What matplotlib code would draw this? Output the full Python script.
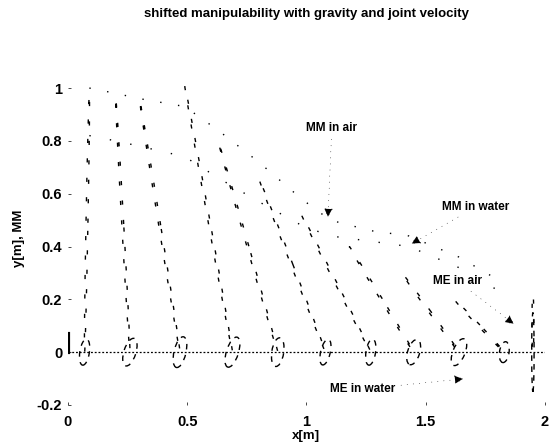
import numpy as np
import matplotlib
matplotlib.use("Agg")
import matplotlib.pyplot as plt
from matplotlib.patches import Ellipse

plt.rcParams['font.family'] = ['Liberation Sans', 'DejaVu Sans']
plt.rcParams['font.weight'] = 'bold'

# end effector positions along the x axis
x_base = [0.07, 0.26, 0.47, 0.69, 0.88, 1.08, 1.27, 1.45, 1.64, 1.83, 1.95]

# tips of the shifted ellipses in air (x, y)
air_tip_x = [0.09, 0.20, 0.30, 0.49, 0.63, 0.80, 0.98, 1.18, 1.40, 1.62, 1.95]
air_tip_y = [0.98, 0.97, 0.96, 1.01, 0.80, 0.66, 0.52, 0.40, 0.30, 0.20, 0.22]

# small ellipses in water (width, height, tilt in degrees)
water_w = [0.04, 0.05, 0.05, 0.05, 0.05, 0.04, 0.04, 0.05, 0.05, 0.04, 0.01]
water_h = [0.10, 0.11, 0.12, 0.12, 0.11, 0.10, 0.10, 0.10, 0.11, 0.08, 0.30]
water_tilt = [-10, -20, -15, -20, -10, -15, -10, -20, -25, -10, 0]

# manipulability measure curves
mm_x = [0.09, 0.20, 0.30, 0.49, 0.63, 0.80, 0.98, 1.10, 1.27, 1.43, 1.64, 1.83]
mm_air = [1.00, 0.98, 0.96, 0.93, 0.84, 0.72, 0.58, 0.50, 0.46, 0.44, 0.36, 0.26]
mm_water = [0.82, 0.80, 0.78, 0.74, 0.66, 0.57, 0.48, 0.44, 0.42, 0.40, 0.32, 0.22]

fig = plt.figure(figsize=(5.52, 4.46), dpi=100)
ax = fig.add_axes([0.123, 0.092, 0.864, 0.829])

# the scan is badly faded, so the lines are drawn as sparse fragments
faded = (0, (3, 11))
for xb, tx, ty in zip(x_base, air_tip_x, air_tip_y):
    dx, dy = tx - xb, ty
    length = np.hypot(dx, dy)
    ang = np.degrees(np.arctan2(dy, dx))
    e = Ellipse(((xb + tx) / 2, ty / 2), length, 0.008, angle=ang,
                fill=False, ec='k', lw=1.0, ls=faded)
    ax.add_patch(e)

for xb, w, h, t in zip(x_base, water_w, water_h, water_tilt):
    e = Ellipse((xb, 0), w, h, angle=t, fill=False, ec='k', lw=1.0,
                ls=(0, (4, 4)))
    ax.add_patch(e)

ax.plot(mm_x, mm_air, color='k', lw=1.0, ls=(0, (1, 12)))
ax.plot(mm_x, mm_water, color='k', lw=1.0, ls=(0, (1, 14)))

ax.plot([0, 2], [0, 0], color='k', lw=0.9, ls=(0, (1.5, 1.5)))
ax.plot([0.0, 0.0], [0.0, 0.07], color='k', lw=3)

arr = dict(arrowstyle='-|>', color='k', lw=0.4, ls=(0, (1, 10)),
           mutation_scale=14)
ax.annotate('MM in air', xy=(1.09, 0.50), xytext=(1.0, 0.85),
            fontsize=8.5, va='center', arrowprops=arr)
ax.annotate('MM in water', xy=(1.43, 0.405), xytext=(1.57, 0.55),
            fontsize=8.5, va='center', arrowprops=arr)
ax.annotate('ME in air', xy=(1.88, 0.10), xytext=(1.53, 0.27),
            fontsize=8.5, va='center', arrowprops=arr)
ax.annotate('ME in water', xy=(1.67, -0.10), xytext=(1.10, -0.14),
            fontsize=8.5, va='center', arrowprops=arr)

ax.set_xlim(0, 2)
ax.set_ylim(-0.2, 1.2)
ax.set_xticks([0, 0.5, 1, 1.5, 2])
ax.set_xticklabels(['0', '0.5', '1', '1.5', '2'])
ax.set_yticks([-0.2, 0, 0.2, 0.4, 0.6, 0.8, 1])
ax.set_yticklabels(['-0.2', '0', '0.2', '0.4', '0.6', '0.8', '1'])
ax.tick_params(direction='in', length=2, width=0.5, labelsize=10.5, pad=4)
ax.tick_params(axis='x', pad=7)
for s in ax.spines.values():
    s.set_visible(False)

ax.set_title('shifted manipulability with gravity and joint velocity',
             fontsize=9.5, fontweight='bold', pad=13)
ax.set_xlabel('x[m]', fontsize=9.5, fontweight='bold', labelpad=1)
ax.set_ylabel('y[m], MM', fontsize=9.5, fontweight='bold')
ax.yaxis.set_label_coords(-0.09, 0.45)

fig.savefig('out.png', dpi=100)
